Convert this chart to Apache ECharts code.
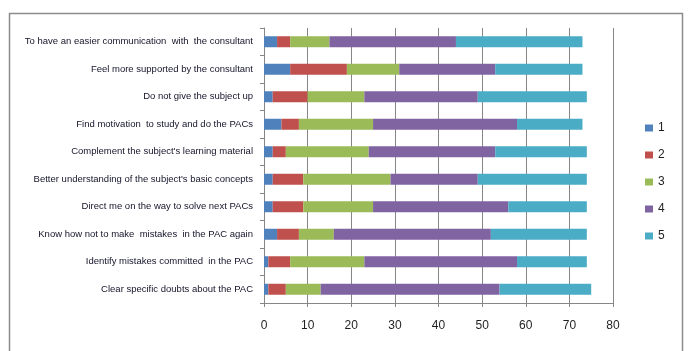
<!DOCTYPE html>
<html>
<head>
<meta charset="utf-8">
<script src="https://cdn.jsdelivr.net/npm/echarts@6/dist/echarts.min.js"></script>
<style>
  html, body { margin: 0; padding: 0; background: #fff; }
  #chart { width: 689px; height: 351px; }
</style>
</head>
<body>
<div id="chart"></div>
<script>
// categories, top to bottom
var categories = [
  "To have an easier communication  with  the consultant",
  "Feel more supported by the consultant",
  "Do not give the subject up",
  "Find motivation  to study and do the PACs",
  "Complement the subject's learning material",
  "Better understanding of the subject's basic concepts",
  "Direct me on the way to solve next PACs",
  "Know how not to make  mistakes  in the PAC again",
  "Identify mistakes committed  in the PAC",
  "Clear specific doubts about the PAC"
];

// answers per score
var score1 = [3, 6, 2, 4, 2, 2, 2, 3, 1, 1];
var score2 = [3, 13, 8, 4, 3, 7, 7, 5, 5, 4];
var score3 = [9, 12, 13, 17, 19, 20, 16, 8, 17, 8];
var score4 = [29, 22, 26, 33, 29, 20, 31, 36, 35, 41];
var score5 = [29, 20, 25, 15, 21, 25, 18, 22, 16, 21];

var seriesNames = ["1", "2", "3", "4", "5"];
var seriesData = [score1, score2, score3, score4, score5];
var colors = ["#4F81BD", "#C0504D", "#9BBB59", "#8064A2", "#4BACC6"];

var xTicks = [0, 10, 20, 30, 40, 50, 60, 70, 80];

var myChart = echarts.init(document.getElementById("chart"));

var series = seriesNames.map(function (name, i) {
  return {
    name: name,
    type: "bar",
    stack: "total",
    barWidth: 11,
    itemStyle: { color: colors[i] },
    data: seriesData[i]
  };
});

var option = {
  animation: false,
  textStyle: { fontFamily: "Liberation Sans, Arial, sans-serif" },
  graphic: [{
    type: "rect",
    left: 7,
    top: 11,
    shape: { width: 673, height: 360 },
    style: { fill: null, stroke: "#8c8c8c", lineWidth: 1.5 },
    z: -1
  }],
  legend: {
    orient: "vertical",
    left: 640,
    top: 116,
    itemWidth: 8,
    itemHeight: 7,
    itemGap: 13,
    icon: "rect",
    textStyle: { fontSize: 12, color: "#1f1f1f", lineHeight: 14 },
    data: seriesNames
  },
  grid: {
    left: 264,
    right: 76,
    top: 28,
    bottom: 48,
    containLabel: false
  },
  xAxis: {
    type: "value",
    min: xTicks[0],
    max: xTicks[xTicks.length - 1],
    interval: 10,
    axisLine: { show: true, lineStyle: { color: "#868686" } },
    axisTick: { show: true, length: 4, lineStyle: { color: "#868686" } },
    axisLabel: { fontSize: 12, color: "#1f1f1f", margin: 17 },
    splitLine: { show: true, lineStyle: { color: "#868686" } }
  },
  yAxis: {
    type: "category",
    inverse: true,
    data: categories,
    axisLine: { show: true, lineStyle: { color: "#868686" } },
    axisTick: { show: true, length: 4, lineStyle: { color: "#868686" } },
    axisLabel: { fontSize: 9.5, color: "#14142a", margin: 11 }
  },
  series: series
};

myChart.setOption(option);
</script>
</body>
</html>
